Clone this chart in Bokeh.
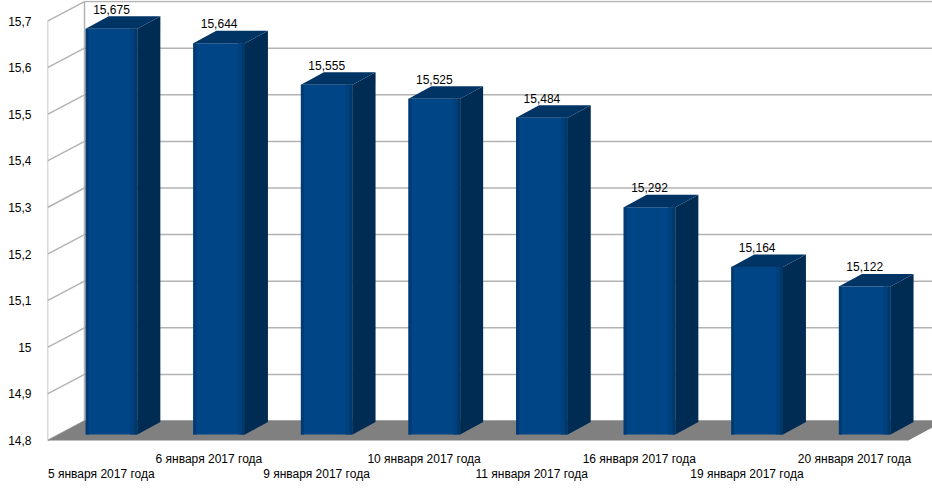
from bokeh.plotting import figure
from bokeh.models import Range1d, FixedTicker
from bokeh.core.properties import value
from bokeh.embed import file_html
from bokeh.resources import INLINE

# ---- data ----
categories = ["5 января 2017 года", "6 января 2017 года", "9 января 2017 года",
              "10 января 2017 года", "11 января 2017 года", "16 января 2017 года",
              "19 января 2017 года", "20 января 2017 года"]
values = [15.675, 15.644, 15.555, 15.525, 15.484, 15.292, 15.164, 15.122]
value_labels = ["15,675", "15,644", "15,555", "15,525", "15,484", "15,292", "15,164", "15,122"]
y_ticks = [14.8, 14.9, 15.0, 15.1, 15.2, 15.3, 15.4, 15.5, 15.6, 15.7]
y_tick_labels = ["14,8", "14,9", "15", "15,1", "15,2", "15,3", "15,4", "15,5", "15,6", "15,7"]

# ---- geometry (pixel-based layout constants) ----
W, H = 932, 489
LEFT = 47
PX_X = 107.6            # px per category
PX_Y = 466.0            # px per value unit
YMIN = 14.8
Y0_FROM_TOP = 440.0     # px from figure top to the 14.8 front line
n = len(values)

def ux(px):
    return px / PX_X

def uy(px):
    return px / PX_Y

x_lo = -0.5
x_hi = -0.5 + ux(W - LEFT)
y_hi = YMIN + uy(Y0_FROM_TOP)
y_lo = YMIN - uy(H - Y0_FROM_TOP)

p = figure(width=W, height=H, output_backend="svg", toolbar_location=None,
           x_range=Range1d(x_lo, x_hi), y_range=Range1d(y_lo, y_hi),
           x_axis_location=None, min_border_left=LEFT, min_border_right=0,
           min_border_top=0, min_border_bottom=0, outline_line_color=None,
           background_fill_color="white", border_fill_color="white")
p.xgrid.visible = False
p.ygrid.visible = False

FONT = "Liberation Sans"
ax = p.yaxis[0]
ax.ticker = FixedTicker(ticks=y_ticks)
ax.major_label_overrides = {t: l for t, l in zip(y_ticks, y_tick_labels)}
ax.axis_line_color = None
ax.major_tick_line_color = None
ax.minor_tick_line_color = None
ax.major_label_standoff = 10
ax.major_label_text_font = FONT
ax.major_label_text_font_size = "12px"
ax.major_label_text_color = "black"

# 3D wall offsets
WDX, WDY = ux(37), uy(19.5)
GRID = "#b3b3b3"

# left wall diagonals and back wall horizontals
p.segment(x0=[x_lo] * len(y_ticks), y0=y_ticks,
          x1=[x_lo + WDX] * len(y_ticks), y1=[t + WDY for t in y_ticks],
          line_color=GRID, line_width=1.5)
p.segment(x0=[x_lo + WDX] * len(y_ticks), y0=[t + WDY for t in y_ticks],
          x1=[x_hi] * len(y_ticks), y1=[t + WDY for t in y_ticks],
          line_color=GRID, line_width=1.5)
# wall edges
p.segment(x0=[x_lo, x_lo + WDX], y0=[y_ticks[0], y_ticks[0] + WDY],
          x1=[x_lo, x_lo + WDX], y1=[y_ticks[-1], y_ticks[-1] + WDY],
          line_color=GRID, line_width=1.5)

# floor
FDY = uy(20)
p.patch(x=[x_lo, n - 0.5, n - 0.5 + WDX, x_lo + WDX],
        y=[YMIN, YMIN, YMIN + FDY, YMIN + FDY],
        fill_color="#808080", line_color=None)

# bars
FL, FR = -0.145, 0.335          # front face left/right relative to category
SDX, SDY = ux(23), uy(12.5)     # side depth offset
BASE = YMIN + uy(6)
TOP_OFF = uy(4)

front_xs, front_ys, side_xs, side_ys, top_xs, top_ys = [], [], [], [], [], []
le_xs, le_ys, re1_xs, re1_ys, re2_xs, re2_ys = [], [], [], [], [], []
lab_x, lab_y = [], []
for i, v in enumerate(values):
    xl, xr = i + FL, i + FR
    yt = v + TOP_OFF
    front_xs.append([xl, xr, xr, xl]); front_ys.append([BASE, BASE, yt, yt])
    side_xs.append([xr, xr + SDX, xr + SDX, xr])
    side_ys.append([BASE, BASE + SDY, yt + SDY, yt])
    top_xs.append([xl, xr, xr + SDX, xl + SDX]); top_ys.append([yt, yt, yt + SDY, yt + SDY])
    le_xs.append([xl, xl + ux(3), xl + ux(3), xl]); le_ys.append([BASE, BASE, yt, yt])
    re1_xs.append([xr - ux(3), xr, xr, xr - ux(3)]); re1_ys.append([BASE, BASE, yt, yt])
    re2_xs.append([xr - ux(7), xr - ux(3), xr - ux(3), xr - ux(7)]); re2_ys.append([BASE, BASE, yt, yt])
    lab_x.append(i + (FL + FR) / 2)
    lab_y.append(yt + SDY + uy(7))

p.patches(xs=front_xs, ys=front_ys, fill_color="#004586", line_color=None)
p.patches(xs=le_xs, ys=le_ys, fill_color="#003b74", line_color=None)
p.patches(xs=re2_xs, ys=re2_ys, fill_color="#00407c", line_color=None)
p.patches(xs=re1_xs, ys=re1_ys, fill_color="#00386a", line_color=None)
p.patches(xs=side_xs, ys=side_ys, fill_color="#002b53", line_color=None)
p.patches(xs=top_xs, ys=top_ys, fill_color="#003465", line_color=None)

# value labels
p.text(x=lab_x, y=lab_y, text=value_labels, text_font=value(FONT),
       text_font_size="12px", text_align="center", text_baseline="middle",
       text_color="black")

# category labels (staggered)
cx = list(range(n))
cy = [YMIN - uy(33) if i % 2 == 0 else YMIN - uy(18) for i in range(n)]
p.text(x=cx, y=cy, text=categories, text_font=value(FONT),
       text_font_size="12px", text_align="center", text_baseline="middle",
       text_color="black")

open("out.html", "w").write(file_html(p, INLINE))
